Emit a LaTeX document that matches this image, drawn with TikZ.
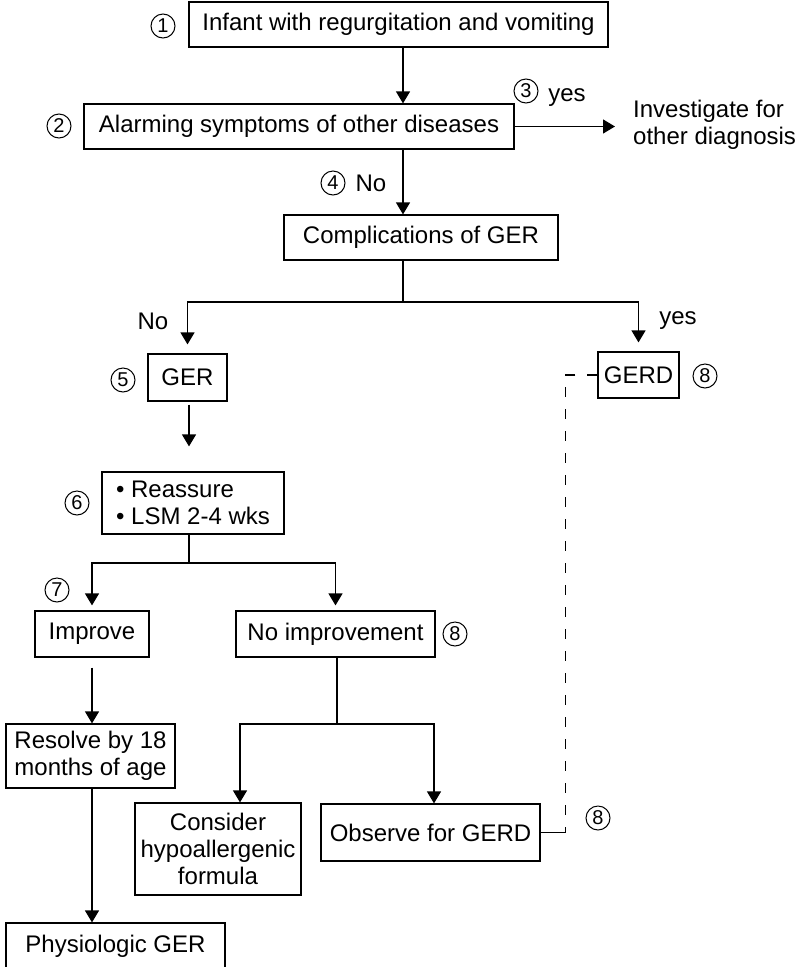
\documentclass[tikz,border=0pt]{standalone}
\usepackage{fontspec}
\setmainfont{Liberation Sans}
\usetikzlibrary{arrows.meta}

\begin{document}
\begin{tikzpicture}[x=1pt, y=-1pt, font=\fontsize{24}{27}\selectfont,
	blk/.style={draw, line width=1.2pt, inner sep=0pt, align=center},
	arr/.style={line width=1.2pt, -{Triangle[length=12pt,width=14pt]}},
	lnk/.style={line width=1.2pt},
	num/.style={circle, draw, line width=1pt, minimum size=24pt, inner sep=0pt, font=\fontsize{20}{20}\selectfont},
	lbl/.style={inner sep=0pt}]
	\useasboundingbox (0,0) rectangle (797,967);
	\node[blk, minimum width=419pt, minimum height=45pt] (infant) at (398.5,24.5) {Infant with regurgitation and vomiting};
	\node[blk, minimum width=430pt, minimum height=45pt] (alarm) at (299,126.5) {Alarming symptoms of other diseases};
	\node[lbl, anchor=west, align=left] (invest) at (633,125) {Investigate for\\other diagnosis};
	\node[blk, minimum width=274pt, minimum height=45pt] (compl) at (421,237.5) {Complications of GER};
	\node[blk, minimum width=79pt, minimum height=47pt] (ger) at (187.5,377.5) {GER};
	\node[blk, minimum width=81pt, minimum height=46pt] (gerd) at (638.5,375) {GERD};
	\node[blk, minimum width=182pt, minimum height=62pt, align=left] (lsm) at (193,503) {\textbullet\ Reassure\\\textbullet\ LSM 2-4 wks};
	\node[blk, minimum width=114pt, minimum height=46pt] (improve) at (92,634) {Improve};
	\node[blk, minimum width=199pt, minimum height=46pt] (noimp) at (335.5,634) {No improvement};
	\node[blk, minimum width=169pt, minimum height=64pt] (resolve) at (90.5,756) {Resolve by 18\\months of age};
	\node[blk, minimum width=219pt, minimum height=46pt] (physio) at (115.5,946) {Physiologic GER};
	\node[blk, minimum width=166pt, minimum height=92pt] (consider) at (218,849) {Consider\\hypoallergenic\\formula};
	\node[blk, minimum width=219pt, minimum height=57pt] (observe) at (430.5,832.5) {Observe for GERD};
	\node[num] (n1) at (163,26) {1};
	\node[num] (n2) at (59,126) {2};
	\node[num] (n3) at (526,91) {3};
	\node[num] (n4) at (333,183) {4};
	\node[num] (n5) at (123,380) {5};
	\node[num] (n6) at (77,503) {6};
	\node[num] (n7) at (57,590) {7};
	\node[num] (n8a) at (705,376) {8};
	\node[num] (n8b) at (455,634) {8};
	\node[num] (n8c) at (598,818) {8};
	\node[lbl] (yes1) at (567,98) {yes};
	\node[lbl] (no1) at (371,183) {No};
	\node[lbl] (no2) at (153,321) {No};
	\node[lbl] (yes2) at (678,321) {yes};
	\coordinate (stem) at (403,0);
	\coordinate (split1) at (403,302);
	\coordinate (split2) at (189,563);
	\coordinate (split3) at (337,724);
	\draw[arr] (stem |- infant.south) -- (stem |- alarm.north);
	\draw[arr, shorten >=18pt] (alarm.east) -- (alarm.east -| invest.west);
	\draw[arr] (stem |- alarm.south) -- (stem |- compl.north);
	\draw[lnk] (stem |- compl.south) -- (split1);
	\draw[arr, shorten >=9pt] (split1) -| (ger.north);
	\draw[arr, shorten >=9pt] (split1) -| (gerd.north);
	\draw[arr, shorten <=3pt, shorten >=25pt] (split2 |- ger.south) -- (split2 |- lsm.north);
	\draw[lnk] (split2 |- lsm.south) -- (split2);
	\draw[arr, shorten >=5pt] (split2) -| (improve.north);
	\draw[arr, shorten >=5pt] (split2) -| (noimp.north);
	\draw[arr, shorten <=10pt] (improve.south) -- (improve.south |- resolve.north);
	\draw[arr] (improve.south |- resolve.south) -- (improve.south |- physio.north);
	\draw[lnk] (split3 |- noimp.south) -- (split3);
	\draw[arr] (split3) -| ([xshift=22pt]consider.north);
	\draw[arr] (split3) -| ([xshift=3.5pt]observe.north);
	\draw[lnk] (observe.east) -- ++(25,0) coordinate (joint);
	\draw[lnk, dash pattern=on 10pt off 12pt] (gerd.west) -| (joint);
\end{tikzpicture}
\end{document}
